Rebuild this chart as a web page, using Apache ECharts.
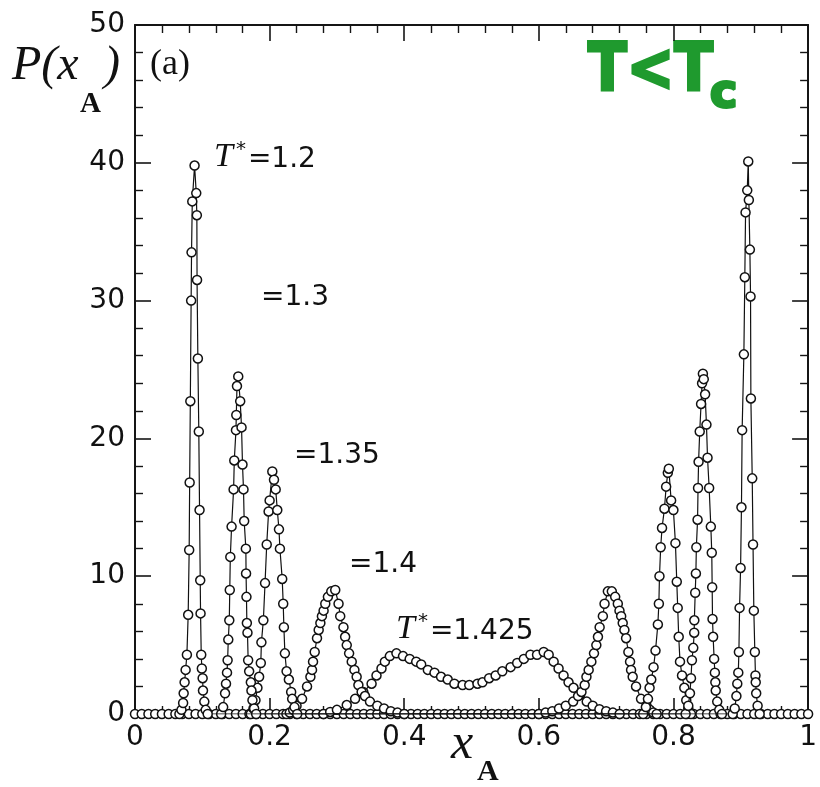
<!DOCTYPE html>
<html>
<head>
<meta charset="utf-8">
<script src="https://cdn.jsdelivr.net/npm/echarts@6/dist/echarts.min.js"></script>
<style>
html,body{margin:0;padding:0;background:#fff;}
#chart{width:820px;height:787px;}
</style>
</head>
<body>
<div id="chart"></div>
<script>
// ---- tick labels ----
const xTickLabels = ['0', '0.2', '0.4', '0.6', '0.8', '1'];
const yTickLabels = ['0', '10', '20', '30', '40', '50'];

// ---- baseline points (P = 0) ----
const baseX = [0,0.01,0.02,0.03,0.04,0.05,0.06,0.07,0.08,0.09,0.1,0.11,0.12,0.13,0.14,0.15,0.16,0.17,0.18,0.19,0.2,
  0.21,0.22,0.23,0.24,0.25,0.26,0.27,0.28,0.29,0.3,0.31,0.32,0.33,0.34,0.35,0.36,0.37,0.38,0.39,0.4,
  0.41,0.42,0.43,0.44,0.45,0.46,0.47,0.48,0.49,0.5,0.51,0.52,0.53,0.54,0.55,0.56,0.57,0.58,0.59,0.6,
  0.61,0.62,0.63,0.64,0.65,0.66,0.67,0.68,0.69,0.7,0.71,0.72,0.73,0.74,0.75,0.76,0.77,0.78,0.79,0.8,
  0.81,0.82,0.83,0.84,0.85,0.86,0.87,0.88,0.89,0.9,0.91,0.92,0.93,0.94,0.95,0.96,0.97,0.98,0.99,1];
const baseY = [0,0,0,0,0,0,0,0,0,0,0,0,0,0,0,0,0,0,0,0,0,
  0,0,0,0,0,0,0,0,0,0,0,0,0,0,0,0,0,0,0,0,
  0,0,0,0,0,0,0,0,0,0,0,0,0,0,0,0,0,0,0,0,
  0,0,0,0,0,0,0,0,0,0,0,0,0,0,0,0,0,0,0,0,
  0,0,0,0,0,0,0,0,0,0,0,0,0,0,0,0,0,0,0,0];

// ---- T* = 1.2 ----
const t12 = [[0.066,0],[0.069,0.3],[0.0715,0.8],[0.0723,1.5],[0.0737,2.3],[0.0752,3.2],[0.0771,4.3],[0.0790,7.2],
  [0.0805,11.9],[0.0812,16.8],[0.0822,22.7],[0.0834,30.0],[0.0840,33.5],[0.0851,37.2],[0.0885,39.8],
  [0.0910,37.8],[0.0919,36.2],[0.0922,31.5],[0.0934,25.8],[0.0948,20.5],[0.0959,14.8],[0.0969,9.7],[0.0974,7.3],
  [0.0984,4.3],[0.0993,3.3],[0.1005,2.6],[0.1010,1.7],[0.1030,0.9],[0.1050,0.3],[0.108,0],
  [0.888,0],[0.891,0.4],[0.8935,1.3],[0.8948,2.2],[0.8963,3.0],[0.8972,4.5],[0.8982,7.7],[0.8997,10.6],
  [0.9010,15.0],[0.9020,20.6],[0.9046,26.1],[0.9060,31.7],[0.9071,36.4],[0.9096,38.0],[0.9111,40.1],
  [0.9120,37.3],[0.9135,33.7],[0.9145,30.3],[0.9150,22.9],[0.9170,17.1],[0.9182,12.3],[0.9194,7.5],
  [0.9209,4.5],[0.9218,2.8],[0.9222,2.3],[0.9229,1.5],[0.925,0.6],[0.928,0]];

// ---- T* = 1.3 ----
const t13 = [[0.128,0],[0.131,0.5],[0.1338,1.5],[0.1352,2.2],[0.1367,3.0],[0.1376,3.9],[0.1386,5.4],[0.1401,6.8],
  [0.1408,9.0],[0.1416,11.4],[0.1435,13.6],[0.1465,16.3],[0.1475,18.4],[0.1500,20.6],[0.1505,21.7],[0.1515,23.8],
  [0.1534,24.5],[0.1563,22.7],[0.1583,20.8],[0.1597,18.1],[0.1612,16.3],[0.1622,14.0],[0.1647,12.0],[0.1650,10.2],
  [0.1656,8.5],[0.1662,6.6],[0.1671,5.9],[0.1681,3.9],[0.1696,3.1],[0.1721,2.3],[0.1730,1.7],[0.1745,1.0],
  [0.177,0.4],[0.180,0],
  [0.818,0],[0.822,0.6],[0.8245,1.5],[0.8260,2.6],[0.8274,3.9],[0.8294,4.8],[0.8308,5.9],[0.8310,6.8],
  [0.8323,8.8],[0.8333,10.2],[0.8340,12.1],[0.8358,14.1],[0.8365,16.4],[0.8373,18.3],[0.8390,20.5],[0.8410,22.5],
  [0.8425,24.0],[0.8437,24.7],[0.8450,24.3],[0.8470,23.2],[0.8490,21.0],[0.8506,18.6],[0.8530,16.4],[0.8555,13.6],
  [0.8569,11.7],[0.8575,9.2],[0.8580,6.9],[0.8589,5.6],[0.8604,4.0],[0.8615,3.0],[0.8622,2.3],[0.8628,1.7],
  [0.865,0.9],[0.868,0.3],[0.872,0]];

// ---- T* = 1.35 ----
const t135 = [[0.172,0],[0.176,0.4],[0.179,1.0],[0.1819,1.9],[0.1844,2.7],[0.1869,3.7],[0.1878,5.2],[0.1907,6.8],
  [0.1932,9.5],[0.1957,12.3],[0.1985,14.7],[0.2000,15.5],[0.2040,17.6],[0.2065,17.0],[0.2090,16.3],[0.2114,14.8],
  [0.2139,13.4],[0.2153,12.0],[0.2187,9.8],[0.2202,8.0],[0.2212,6.3],[0.2227,4.4],[0.2252,3.1],[0.2286,2.5],
  [0.2320,1.6],[0.2335,1.1],[0.237,0.5],[0.241,0],
  [0.755,0],[0.759,0.5],[0.7621,1.1],[0.7645,1.9],[0.7670,2.5],[0.7704,3.4],[0.7733,4.6],[0.7768,6.5],
  [0.7783,8.0],[0.7792,10.0],[0.7810,12.1],[0.7830,13.5],[0.7866,14.9],[0.7891,16.5],[0.7916,17.5],[0.7931,17.8],
  [0.7965,15.5],[0.7999,14.8],[0.8029,12.4],[0.8049,9.6],[0.8063,7.7],[0.8078,5.6],[0.8097,3.8],[0.8127,2.8],
  [0.8161,1.9],[0.819,1.0],[0.822,0.4],[0.826,0]];

// ---- T* = 1.4 ----
const t14 = [[0.225,0],[0.230,0.1],[0.235,0.3],[0.240,0.6],[0.2482,1.1],[0.2556,2.0],[0.2606,2.7],[0.2630,3.2],
  [0.2645,3.8],[0.2670,4.5],[0.2704,5.5],[0.2729,6.1],[0.2754,6.6],[0.2777,7.1],[0.2802,7.5],[0.2827,8.0],
  [0.2866,8.5],[0.2916,8.9],[0.2975,9.0],[0.3024,8.0],[0.3049,7.1],[0.3097,6.3],[0.3122,5.6],[0.3146,5.0],
  [0.3181,4.4],[0.3220,3.8],[0.3260,3.2],[0.3293,2.7],[0.3319,2.1],[0.3367,1.6],[0.3417,1.3],[0.3491,0.9],
  [0.360,0.6],[0.370,0.4],[0.380,0.2],[0.390,0.1],[0.400,0],
  [0.600,0],[0.610,0.1],[0.620,0.2],[0.630,0.4],[0.640,0.6],[0.6509,0.9],[0.6583,1.3],[0.6633,1.6],[0.6681,2.1],
  [0.6707,2.7],[0.6740,3.2],[0.6780,3.8],[0.6819,4.4],[0.6854,5.0],[0.6878,5.6],[0.6903,6.3],[0.6951,7.1],
  [0.6976,8.0],[0.7025,8.9],[0.7084,8.9],[0.7134,8.5],[0.7173,8.0],[0.7198,7.5],[0.7223,7.1],[0.7246,6.6],
  [0.7271,6.1],[0.7296,5.5],[0.7330,4.5],[0.7355,3.8],[0.7370,3.2],[0.7394,2.7],[0.7444,2.0],[0.7518,1.1],
  [0.760,0.6],[0.765,0.3],[0.770,0.1],[0.775,0]];

// ---- T* = 1.425 ----
const t1425 = [[0.280,0],[0.290,0.15],[0.300,0.3],[0.3146,0.65],[0.3270,1.1],[0.3392,1.6],[0.3515,2.2],[0.3588,2.8],
  [0.3662,3.3],[0.3712,3.8],[0.3786,4.2],[0.3884,4.4],[0.3982,4.2],[0.4081,4.0],[0.4178,3.8],[0.4252,3.6],
  [0.4351,3.2],[0.4450,3.0],[0.4547,2.7],[0.4646,2.5],[0.4745,2.2],[0.4867,2.1],[0.4966,2.1],[0.5088,2.2],
  [0.5162,2.3],[0.5261,2.6],[0.5358,2.8],[0.5457,3.1],[0.5580,3.4],[0.5678,3.7],[0.5777,4.0],[0.5875,4.3],
  [0.5973,4.3],[0.6072,4.5],[0.6146,4.3],[0.6220,3.8],[0.6293,3.3],[0.6367,2.8],[0.6441,2.3],[0.6515,1.9],
  [0.6612,1.4],[0.6711,0.9],[0.680,0.6],[0.690,0.35],[0.700,0.2],[0.710,0.1],[0.720,0]];

const chart = echarts.init(document.getElementById('chart'), null, {renderer: 'canvas'});

const axisCol = '#151515';
const sansFont = '"DejaVu Sans", "Liberation Sans", Arial, sans-serif';
const serifFont = '"Liberation Serif", "Times New Roman", serif';

function xAxisCfg(pos, showLabel) {
  return {
    type: 'value', position: pos, min: 0, max: 1, interval: 0.2,
    axisLine: {show: true, onZero: false, lineStyle: {color: axisCol, width: 2}},
    axisTick: {show: true, inside: true, length: 16, lineStyle: {color: axisCol, width: 1.6}},
    minorTick: {show: true, splitNumber: 5, length: 8, lineStyle: {color: axisCol, width: 1.4}},
    splitLine: {show: false},
    axisLabel: {show: showLabel, color: '#111', fontFamily: sansFont, fontSize: 28, margin: 10,
      formatter: function (v) { return xTickLabels[Math.round(v / 0.2)]; }}
  };
}
function yAxisCfg(pos, showLabel) {
  return {
    type: 'value', position: pos, min: 0, max: 50, interval: 10,
    axisLine: {show: true, onZero: false, lineStyle: {color: axisCol, width: 2}},
    axisTick: {show: true, inside: true, length: 16, lineStyle: {color: axisCol, width: 1.6}},
    minorTick: {show: true, splitNumber: 5, length: 8, lineStyle: {color: axisCol, width: 1.4}},
    splitLine: {show: false},
    axisLabel: {show: showLabel, color: '#111', fontFamily: sansFont, fontSize: 28, margin: 10,
      formatter: function (v) { return yTickLabels[Math.round(v / 10)]; }}
  };
}

function mkSeries(name, data, z) {
  return {
    name: name, type: 'line', xAxisIndex: 0, yAxisIndex: 0, data: data,
    symbol: 'circle', symbolSize: 9, showAllSymbol: true, z: z,
    lineStyle: {color: '#111', width: 1.2},
    itemStyle: {color: '#fff', borderColor: '#111', borderWidth: 1.5},
    emphasis: {disabled: true}, animation: false
  };
}

const baseData = baseX.map((x, i) => [x, baseY[i]]);

const richT = {
  t: {font: 'italic 34px ' + serifFont, fill: '#111', verticalAlign: 'bottom'},
  s: {font: '20px ' + sansFont, fill: '#111', verticalAlign: 'top', padding: [0, 2, 0, 3]},
  n: {font: '28px ' + sansFont, fill: '#111', verticalAlign: 'bottom'}
};

const option = {
  backgroundColor: '#fff',
  animation: false,
  grid: {left: 135, right: 7, top: 25, bottom: 73, containLabel: false},
  xAxis: [xAxisCfg('bottom', true), xAxisCfg('top', false)],
  yAxis: [yAxisCfg('left', true), yAxisCfg('right', false)],
  series: [
    mkSeries('base', baseData, 2),
    mkSeries('T*=1.425', t1425, 3),
    mkSeries('T*=1.4', t14, 4),
    mkSeries('T*=1.35', t135, 5),
    mkSeries('T*=1.3', t13, 6),
    mkSeries('T*=1.2', t12, 7)
  ],
  graphic: [
    // y-axis title P(x_A)
    {type: 'text', left: 12, top: 42, style: {text: 'P(x', font: 'italic 48px ' + serifFont, fill: '#111'}},
    {type: 'text', left: 80, top: 90, style: {text: 'A', font: 'bold 29px ' + serifFont, fill: '#111'}},
    {type: 'text', left: 104, top: 42, style: {text: ')', font: 'italic 48px ' + serifFont, fill: '#111'}},
    // panel label
    {type: 'text', left: 150, top: 47, style: {text: '(a)', font: '36px ' + serifFont, fill: '#111'}},
    // x-axis title x_A
    {type: 'text', left: 451, top: 720, style: {text: 'x', font: 'italic 50px ' + serifFont, fill: '#111'}},
    {type: 'text', left: 477, top: 757, style: {text: 'A', font: 'bold 30px ' + serifFont, fill: '#111'}},
    // curve labels
    {type: 'text', left: 214, top: 140, style: {text: '{t|T}{s|*}{n|=1.2}', rich: richT}},
    {type: 'text', left: 261, top: 284, style: {text: '=1.3', font: '28px ' + sansFont, fill: '#111'}},
    {type: 'text', left: 294, top: 442, style: {text: '=1.35', font: '28px ' + sansFont, fill: '#111'}},
    {type: 'text', left: 349, top: 551, style: {text: '=1.4', font: '28px ' + sansFont, fill: '#111'}},
    {type: 'text', left: 396, top: 612, style: {text: '{t|T}{s|*}{n|=1.425}', rich: richT}},
    // green annotation T<Tc
    {type: 'text', x: 588, y: 40, scaleX: 0.86, style: {text: 'T<T', font: 'bold 66px "DejaVu Sans", sans-serif',
      fill: '#1f9a2e', stroke: '#1f9a2e', lineWidth: 3}},
    {type: 'text', x: 710, y: 72, style: {text: 'c', font: 'bold 46px "DejaVu Sans", sans-serif',
      fill: '#1f9a2e', stroke: '#1f9a2e', lineWidth: 3}}
  ]
};
chart.setOption(option);
</script>
</body>
</html>
